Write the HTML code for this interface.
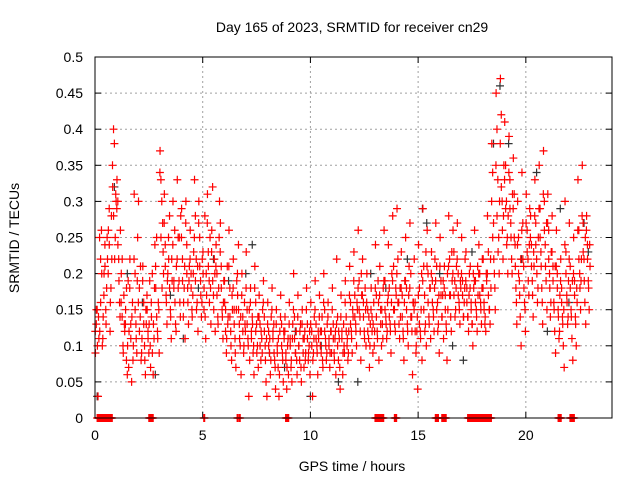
<!DOCTYPE html>
<html><head><meta charset="utf-8"><style>
body{margin:0;background:#fff;}
svg{display:block;font-family:"Liberation Sans",sans-serif;}
</style></head><body>
<svg id="chart" width="640" height="480">
<rect width="640" height="480" fill="#fff"/>
<text x="352" y="32" font-size="14" text-anchor="middle">Day 165 of 2023, SRMTID for receiver cn29</text>
<text x="352" y="471" font-size="14" text-anchor="middle">GPS time / hours</text>
<text transform="translate(19,238) rotate(-90)" font-size="14" text-anchor="middle">SRMTID / TECUs</text>
<g id="grid"></g><g id="ticks"></g><g id="marks"></g>
<rect x="95" y="57" width="517" height="361" fill="none" stroke="#000" stroke-width="1"/>
</svg>
<script>
const xTicks=[0,5,10,15,20];
const yTicks=[0,0.05,0.1,0.15,0.2,0.25,0.3,0.35,0.4,0.45,0.5];
const yTickLabels=["0","0.05","0.1","0.15","0.2","0.25","0.3","0.35","0.4","0.45","0.5"];
const binStart=0, binWidth=0.2;
const redBins=[
[9,13,15,3,11],[12,22,26,10,14],[20,24,15,18,22],[26,29,12,18,22],[32,40,38,25,30],
[33,30,22,16,26],[20,14,10,17,12],[15,8,6,19,12],[22,13,5,16,10],[31,20,13,9,25],
[30,18,14,8,11],[21,16,10,6,13],[15,12,9,19,7],[14,20,6,11,24],[18,25,12,16,9],
[37,33,30,27,20],[31,24,17,13,20],[22,28,15,11,19],[30,18,26,13,21],[33,25,19,16,28],
[29,22,14,18,11],[30,24,18,13,21],[26,20,15,17,23],[33,28,22,16,12],[30,25,19,14,22],
[20,15,28,11,17],[31,23,19,25,13],[26,32,17,22,12],[24,20,14,18,30],[27,21,15,11,19],
[16,12,9,21,14],[26,18,12,8,15],[22,15,11,7,19],[17,24,13,10,6],[20,14,9,16,12],
[23,15,11,3,8],[18,12,14,9,6],[21,16,13,10,7],[17,13,8,11,15],[19,14,10,5,3],
[16,12,9,6,14],[18,11,13,8,4],[15,10,7,3,12],[17,13,9,5,11],[14,8,4,10,6],
[16,11,7,5,13],[20,14,9,12,6],[17,10,8,13,5],[15,11,7,12,9],[18,13,8,10,6],
[16,12,3,9,14],[19,13,10,6,11],[17,12,9,14,7],[20,15,11,8,13],[16,10,7,12,9],
[18,13,9,11,6],[22,14,8,11,4],[17,11,6,13,9],[19,14,10,8,12],[21,16,12,9,14],
[23,17,13,10,15],[26,19,14,8,17],[22,16,12,18,10],[20,15,11,7,13],[18,14,9,16,12],
[24,17,12,19,8],[21,15,10,13,18],[26,19,14,11,16],[24,18,13,9,20],[28,21,15,12,17],
[29,22,16,11,14],[23,17,12,8,19],[25,18,13,10,21],[27,20,14,6,16],[22,16,9,12,4],
[24,18,12,15,8],[29,21,17,13,10],[26,20,14,18,11],[23,19,15,12,22],[27,21,16,13,9],
[25,19,14,17,11],[21,17,13,8,15],[28,22,17,12,19],[26,23,19,15,21],[27,20,16,13,18],
[25,19,14,16,22],[23,18,14,12,20],[21,16,13,10,18],[26,19,15,12,17],[24,20,16,13,22],
[22,16,13,12,19],[28,23,15,13,18],[38,34,27,20,15],[45,40,33,25,30],[47,42,30,22,35],
[41,35,30,25,28],[39,33,27,22,31],[36,31,24,18,13],[30,25,19,14,10],[34,27,21,16,12],
[31,26,22,17,29],[28,24,19,14,21],[33,27,22,16,25],[35,29,23,18,13],[37,30,24,19,15],
[31,26,20,14,23],[28,21,16,12,9],[26,20,15,11,17],[22,18,14,10,7],[30,23,17,13,19],
[27,21,15,11,8],[25,19,14,10,16],[33,26,20,15,22],[35,27,22,16,13],[28,24,19,15,21]];
const redBins2=[
[12,15,10,14],[25,16,20,11],[17,21,13,25],[20,24,16,28],[35,28,22,31],
[29,24,19,14],[16,22,9,13],[13,18,10,7],[18,11,14,8],[22,15,11,19],
[16,12,21,9],[19,13,8,15],[17,11,13,10],[16,9,13,18],[21,14,11,15],
[34,25,18,23],[27,21,16,19],[25,18,14,22],[24,19,16,12],[22,18,25,14],
[25,19,16,21],[27,20,16,19],[22,18,14,20],[25,19,15,21],[27,21,17,16],
[23,18,14,20],[27,21,16,18],[23,19,15,20],[21,17,13,25],[23,18,14,16],
[19,15,11,13],[21,14,10,17],[18,13,9,15],[20,15,11,14],[17,12,10,13],
[18,13,10,15],[16,11,13,10],[18,12,9,14],[14,10,12,9],[16,12,8,11],
[13,10,11,8],[15,12,9,7],[13,9,11,6],[14,10,8,12],[12,9,7,11],
[13,10,8,11],[15,11,9,8],[14,10,12,7],[13,9,11,8],[15,11,9,12],
[13,10,8,11],[15,11,9,12],[14,10,12,8],[16,12,10,9],[14,11,9,12],
[15,11,8,12],[13,10,12,7],[14,12,9,10],[16,12,11,9],[17,13,11,15],
[19,14,12,16],[18,15,12,20],[17,14,11,15],[16,12,14,10],[15,12,13,10],
[18,14,11,16],[17,13,15,11],[19,15,13,12],[17,14,12,16],[19,15,13,18],
[20,16,13,18],[18,14,11,16],[19,15,12,17],[18,14,12,16],[15,12,10,14],
[17,13,11,20],[19,15,12,23],[21,16,13,18],[20,16,14,18],[19,15,12,17],
[21,17,14,19],[18,15,12,20],[21,17,14,23],[20,17,14,18],[22,17,15,19],
[20,17,14,18],[19,16,14,17],[18,15,13,20],[19,16,14,21],[20,17,15,18],
[18,15,14,20],[20,17,15,22],[30,25,22,18],[35,28,23,20],[38,32,26,28],
[33,29,24,20],[34,29,25,20],[29,25,21,16],[24,20,17,22],[26,22,18,15],
[27,23,19,24],[25,21,17,23],[28,24,20,18],[29,25,21,16],[31,26,21,27],
[27,22,18,16],[23,19,15,21],[21,18,14,12],[19,16,13,15],[24,20,16,14],
[22,18,14,19],[20,17,13,18],[26,22,18,19],[28,23,19,25],[26,22,18,24]];
const zeroRanges=[[0.1,0.8],[2.5,2.7],[5.05,5.1],[6.6,6.65],[6.7,6.75],[8.85,9.0],[13.0,13.4],[13.9,14.0],[15.8,15.95],[16.1,16.3],[17.3,18.4],[21.5,21.65],[22.05,22.25]];
const blackT=[0.1,0.9,1.5,2.2,2.8,3.5,4.1,4.8,5.5,6.2,7.0,7.3,8.1,8.8,9.3,10.0,10.5,11.3,12.2,12.8,13.5,14.5,15.4,15.2,16.0,16.6,17.1,17.5,18.5,18.8,19.2,19.8,20.5,21.0,21.6,22.0,22.7,22.9];
const blackV=[0.03,0.32,0.2,0.16,0.06,0.17,0.11,0.18,0.22,0.19,0.2,0.24,0.09,0.07,0.12,0.03,0.1,0.05,0.05,0.2,0.18,0.22,0.27,0.29,0.2,0.1,0.08,0.23,0.38,0.46,0.38,0.22,0.34,0.12,0.29,0.16,0.27,0.23];

const NS="http://www.w3.org/2000/svg";
const X0=95,X1=612,Y0=418,Y1=57,XMAX=24,YMAX=0.5;
function xs(t){return X0+(X1-X0)*t/XMAX;}
function ys(v){return Y0-(Y0-Y1)*v/YMAX;}
function mk(tag,attrs,parent){const e=document.createElementNS(NS,tag);for(const k in attrs)e.setAttribute(k,attrs[k]);parent.appendChild(e);return e;}
const grid=document.getElementById('grid'),ticks=document.getElementById('ticks'),marks=document.getElementById('marks');
xTicks.forEach(t=>{const x=xs(t);
 if(t>0){const g=mk('line',{x1:x,y1:Y0,x2:x,y2:Y1,stroke:'#a0a0a0','stroke-dasharray':'2,3'},grid);
 
 }
 mk('line',{x1:x,y1:Y0,x2:x,y2:Y0-6,stroke:'#000'},ticks);
 mk('line',{x1:x,y1:Y1,x2:x,y2:Y1+6,stroke:'#000'},ticks);
 const l=mk('text',{x:x,y:Y0+22,'font-size':14,'text-anchor':'middle'},ticks);l.textContent=t;
 
 
});
yTicks.forEach((v,i)=>{const y=ys(v);
 if(v>0&&v<YMAX){const g=mk('line',{x1:X0,y1:y,x2:X1,y2:y,stroke:'#a0a0a0','stroke-dasharray':'2,3'},grid);
 
 }
 mk('line',{x1:X0,y1:y,x2:X0+6,y2:y,stroke:'#000'},ticks);
 mk('line',{x1:X1,y1:y,x2:X1-6,y2:y,stroke:'#000'},ticks);
 const l=mk('text',{x:X0-12,y:y+5,'font-size':14,'text-anchor':'end'},ticks);l.textContent=yTickLabels[i];
 
 
});
function plus(t,v,col,name){const x=xs(t),y=ys(v);
 const p=mk('path',{d:`M${x-4},${y}H${x+4}M${x},${y-4}V${y+4}`,stroke:col,'stroke-width':1.2,fill:'none'},marks);
 
 
}
blackT.forEach((t,i)=>plus(t,blackV[i],'#333','black-point'));
redBins.forEach((vals,b)=>{vals.forEach((v,i)=>{
 const t=binStart+b*binWidth+(i+0.5)*binWidth/vals.length;
 plus(t,v/100,'#ff0000','red-point');});});
redBins2.forEach((vals,b)=>{vals.forEach((v,i)=>{
 const t=binStart+b*binWidth+(i+0.25)*binWidth/vals.length;
 plus(t,v/100,'#ff0000','red-point');});});
zeroRanges.forEach(r=>{for(let t=r[0];t<=r[1]+1e-9;t+=0.02)plus(t,0,'#ff0000','zero-point');});
</script>
</body></html>
